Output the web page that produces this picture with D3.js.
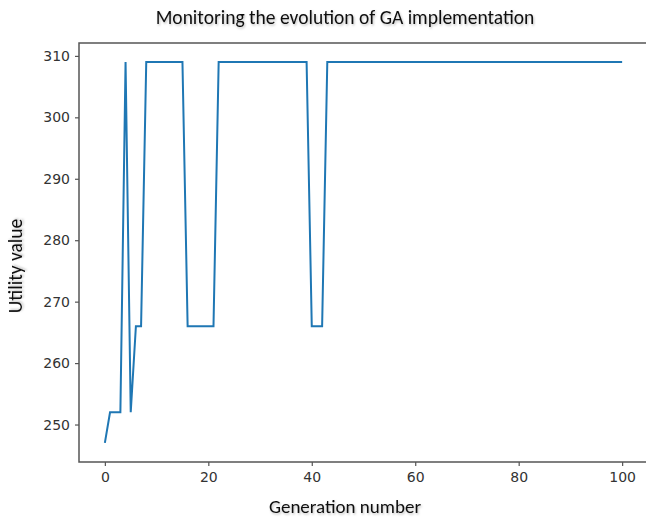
<!DOCTYPE html>
<html>
<head>
<meta charset="utf-8">
<script src="https://cdn.jsdelivr.net/npm/d3@7"></script>
<style>
  body { margin: 0; background: #fff; }
  #chart { width: 646px; height: 519px; }
</style>
</head>
<body>
<div id="chart"></div>
<script>
// utility value of the best individual, generation 0..100
const generations = d3.range(0, 101);
const utility = [
  247, 252, 252, 252, 309, 252, 266, 266, 309, 309,
  309, 309, 309, 309, 309, 309, 266, 266, 266, 266,
  266, 266, 309, 309, 309, 309, 309, 309, 309, 309,
  309, 309, 309, 309, 309, 309, 309, 309, 309, 309,
  266, 266, 266, 309, 309, 309, 309, 309, 309, 309,
  309, 309, 309, 309, 309, 309, 309, 309, 309, 309,
  309, 309, 309, 309, 309, 309, 309, 309, 309, 309,
  309, 309, 309, 309, 309, 309, 309, 309, 309, 309,
  309, 309, 309, 309, 309, 309, 309, 309, 309, 309,
  309, 309, 309, 309, 309, 309, 309, 309, 309, 309,
  309
];
const xTicks = [0, 20, 40, 60, 80, 100];
const yTicks = [250, 260, 270, 280, 290, 300, 310];

const titleText = "Monitoring the evolution of GA implementation";
const xLabel = "Generation number";
const yLabel = "Utility value";

const data = generations.map((g, i) => ({ gen: g, val: utility[i] }));

const width = 646, height = 519;
const margin = { top: 43, right: -2, bottom: 57, left: 79 };

const svg = d3.select("#chart")
    .append("svg")
    .attr("width", width)
    .attr("height", height);

// soft shadow like the screenshot's text
const defs = svg.append("defs");
defs.append("filter").attr("id", "shadow")
    .attr("x", "-10%").attr("y", "-30%").attr("width", "120%").attr("height", "160%")
  .append("feDropShadow")
    .attr("dx", 1).attr("dy", 1.5).attr("stdDeviation", 1.2)
    .attr("flood-color", "#000").attr("flood-opacity", 0.25);

// matplotlib-style 5% padding on each side
const xPad = (d3.max(generations) - d3.min(generations)) * 0.05;
const yExt = d3.extent(utility);
const yPad = (yExt[1] - yExt[0]) * 0.05;

const x = d3.scaleLinear()
    .domain([d3.min(generations) - xPad, d3.max(generations) + xPad])
    .range([margin.left, width - margin.right]);
const y = d3.scaleLinear()
    .domain([yExt[0] - yPad, yExt[1] + yPad])
    .range([height - margin.bottom, margin.top]);

const axisColor = "#555";

const xAxis = svg.append("g")
    .attr("transform", `translate(0,${height - margin.bottom})`)
    .call(d3.axisBottom(x).tickValues(xTicks).tickSize(4).tickPadding(6).tickFormat(d3.format("d")));
const yAxis = svg.append("g")
    .attr("transform", `translate(${margin.left},0)`)
    .call(d3.axisLeft(y).tickValues(yTicks).tickSize(4).tickPadding(5).tickFormat(d3.format("d")));

[xAxis, yAxis].forEach(ax => {
  ax.select(".domain").remove();
  ax.selectAll(".tick line").attr("stroke", axisColor).attr("stroke-width", 1.2);
  ax.selectAll(".tick text")
    .attr("fill", "#333")
    .attr("font-family", "DejaVu Sans, sans-serif")
    .attr("font-size", 14);
});

// frame (spines)
svg.append("rect")
    .attr("x", x.range()[0])
    .attr("y", y.range()[1])
    .attr("width", x.range()[1] - x.range()[0])
    .attr("height", y.range()[0] - y.range()[1])
    .attr("fill", "none")
    .attr("stroke", axisColor)
    .attr("stroke-width", 1.5);

const line = d3.line()
    .x(d => x(d.gen))
    .y(d => y(d.val));

svg.append("path")
    .datum(data)
    .attr("fill", "none")
    .attr("stroke", "#1f77b4")
    .attr("stroke-width", 2)
    .attr("stroke-linejoin", "miter")
    .attr("d", line);

const labelFont = "Carlito, 'Open Sans', 'Noto Sans', sans-serif";

svg.append("text")
    .attr("x", 345)
    .attr("y", 24)
    .attr("text-anchor", "middle")
    .attr("font-family", labelFont)
    .attr("font-size", 19.5)
    .attr("fill", "#111")
    .attr("filter", "url(#shadow)")
    .text(titleText);

svg.append("text")
    .attr("x", 345)
    .attr("y", 513)
    .attr("text-anchor", "middle")
    .attr("font-family", labelFont)
    .attr("font-size", 19)
    .attr("fill", "#111")
    .attr("filter", "url(#shadow)")
    .text(xLabel);

svg.append("text")
    .attr("transform", `translate(22,266) rotate(-90)`)
    .attr("text-anchor", "middle")
    .attr("font-family", labelFont)
    .attr("font-size", 19.5)
    .attr("fill", "#111")
    .attr("filter", "url(#shadow)")
    .text(yLabel);
</script>
</body>
</html>
